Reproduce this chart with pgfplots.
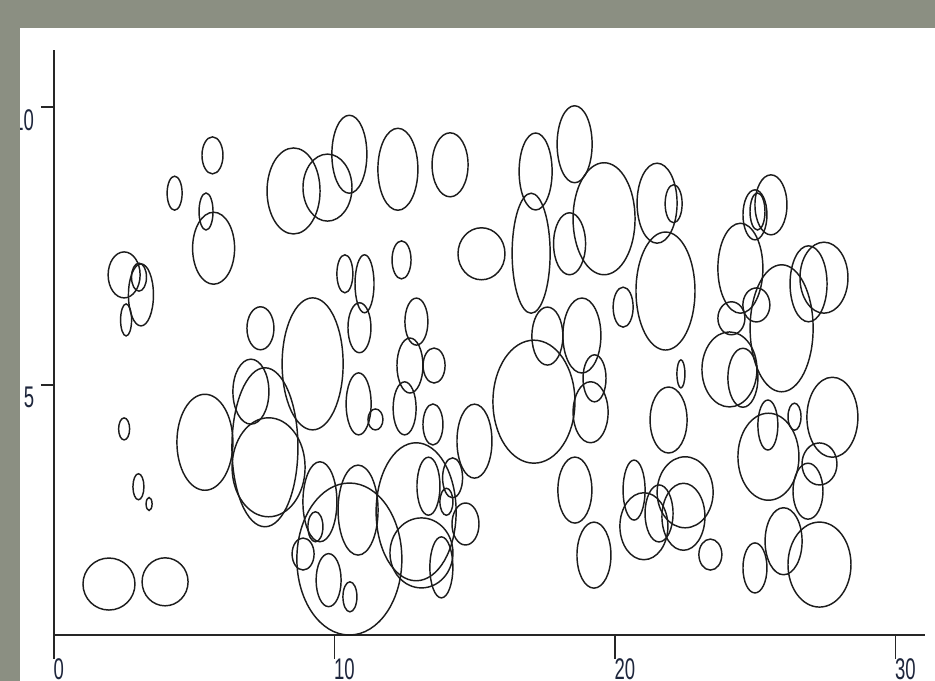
\documentclass[border=0pt]{standalone}
\usepackage{pgfplots}
\pgfplotsset{compat=1.18}
\usepackage{pgfplotstable}
\usepackage{fontspec}
\setmainfont{Liberation Sans}
\definecolor{bord}{RGB}{139,143,130}
\definecolor{lab}{RGB}{30,38,60}
\definecolor{ink}{RGB}{28,28,28}

\pgfdeclareplotmark{ell}{\pgfpathellipse{\pgfpointorigin}{\pgfpoint{\rx bp}{0pt}}{\pgfpoint{0pt}{\ry bp}}\pgfusepathqstroke}

\pgfplotstableread{
x y rx ry
2.50 6.98 16 23
3.03 6.94 7.5 14
3.10 6.62 12.5 31
2.57 6.17 5.5 16
2.50 4.21 5.5 11
3.01 3.17 5.5 13
3.39 2.86 3 6.5
1.96 1.42 26 26
3.96 1.46 23 24
4.30 8.45 7.5 17
5.65 9.13 10.5 18.5
5.42 8.12 7 18.5
5.69 7.46 21 36
7.36 6.02 13.5 21.5
5.38 3.97 28 48
9.22 5.38 30.5 66
10.37 7.00 8 19
11.07 6.82 9.5 29
10.89 6.03 11.5 25
12.39 7.25 9.5 19
15.24 7.36 23.5 26
12.92 6.14 11.5 23.5
12.69 5.35 13 27.5
13.55 5.35 11 17.5
12.50 4.58 11.5 26.5
10.86 4.66 12.5 31
11.46 4.38 7.5 10.5
13.51 4.29 10 20.5
14.99 3.99 17.5 37
17.01 7.37 19 60
17.17 8.84 16.5 38.5
18.56 9.33 17.5 38.5
18.38 7.54 16 31
19.61 7.99 31 56
20.29 6.40 10 20
21.50 8.27 20 40
22.09 8.26 8.5 19
21.80 6.69 29.5 59
17.59 5.88 15.5 29
18.82 5.89 19 37.5
17.11 4.70 41 61.5
19.27 5.12 11.5 23.5
19.13 4.51 17.5 30.5
22.35 5.20 4 14
21.91 4.37 18.5 33
18.57 3.11 17 33
19.25 1.94 17 33
20.68 3.11 11 30
21.03 2.46 24 33.5
21.57 2.69 14 28.5
22.50 3.07 28 35.5
22.44 2.63 21.5 33.5
23.40 1.95 11.5 15.5
25.56 8.24 16 30
24.99 8.06 12 25
25.08 8.12 7.5 18.5
24.47 7.10 22.5 45
26.90 6.82 18.5 38
27.45 6.93 24 35.5
25.94 6.02 31.5 63.5
25.04 6.44 13.5 17
24.15 6.20 13.5 16.5
24.08 5.28 27.5 37.5
24.56 5.13 15 29.5
25.45 4.28 10 25
26.40 4.43 6.5 13.5
25.47 3.71 30.5 43.5
27.75 4.42 25.5 40
27.29 3.58 17.5 21
26.88 3.09 15 28
24.99 1.71 12 25
26.01 2.19 18.5 33.5
27.29 1.77 31.5 42.5
8.54 8.49 26.5 43
9.75 8.55 24.5 33.5
10.53 9.15 17.5 39
12.26 8.88 20 41
14.12 8.96 18 32
9.48 2.90 17 40
9.32 2.45 7.5 15
8.88 1.96 11 16
10.53 1.87 52.5 76
9.79 1.49 12.5 26.5
10.55 1.19 7 15
10.84 2.75 20 45
13.10 1.98 31.5 35
13.35 3.18 11.5 29
13.81 1.72 11.5 30.5
13.99 2.90 6.5 13.5
14.21 3.33 10 20
14.67 2.50 13.5 21
7.02 4.88 18 32.5
7.65 3.52 36.5 49.5
7.52 3.88 33 79.5
12.91 2.72 40 69
}\bubbles

\begin{document}
\begin{tikzpicture}
\useasboundingbox (0,0) rectangle (935bp,681bp);
\fill[white] (0,0) rectangle (935bp,681bp);
\begin{axis}[
  at={(54bp,46bp)}, anchor=south west,
  x=28.05bp, y=55.6bp,
  xmin=0, xmax=31.05, ymin=0.5036, ymax=11.03,
  axis x line*=bottom, axis y line*=left,
  axis line style={line width=1.5bp, draw=black!85},
  clip=false,
  xtick={0,10,20,30}, ytick={5,10},
  minor tick num=0,
  tick align=outside,
  major tick length=13bp,
  xtick style={/pgfplots/major tick length=24bp},
  tick style={line width=1.3bp, draw=black!85},
  /pgf/number format/assume math mode=true,
  ticklabel style={font=\fontsize{30}{30}\selectfont, text=lab, xscale=0.62},
  xticklabel style={anchor=north west, inner sep=0pt, xshift=-1bp, yshift=-10bp},
  yticklabel style={anchor=north east, inner sep=0pt, xshift=-11bp, yshift=-2bp},
]
\addplot[scatter, only marks, mark=ell, line width=1.45bp,
  scatter/use mapped color={draw=ink, fill=none},
  visualization depends on={\thisrow{rx}\as\rx},
  visualization depends on={\thisrow{ry}\as\ry}]
  table[x=x, y=y] {\bubbles};
\end{axis}
\fill[bord] (0,0) rectangle (20bp,681bp);
\fill[bord] (0,653bp) rectangle (935bp,681bp);
\end{tikzpicture}
\end{document}
